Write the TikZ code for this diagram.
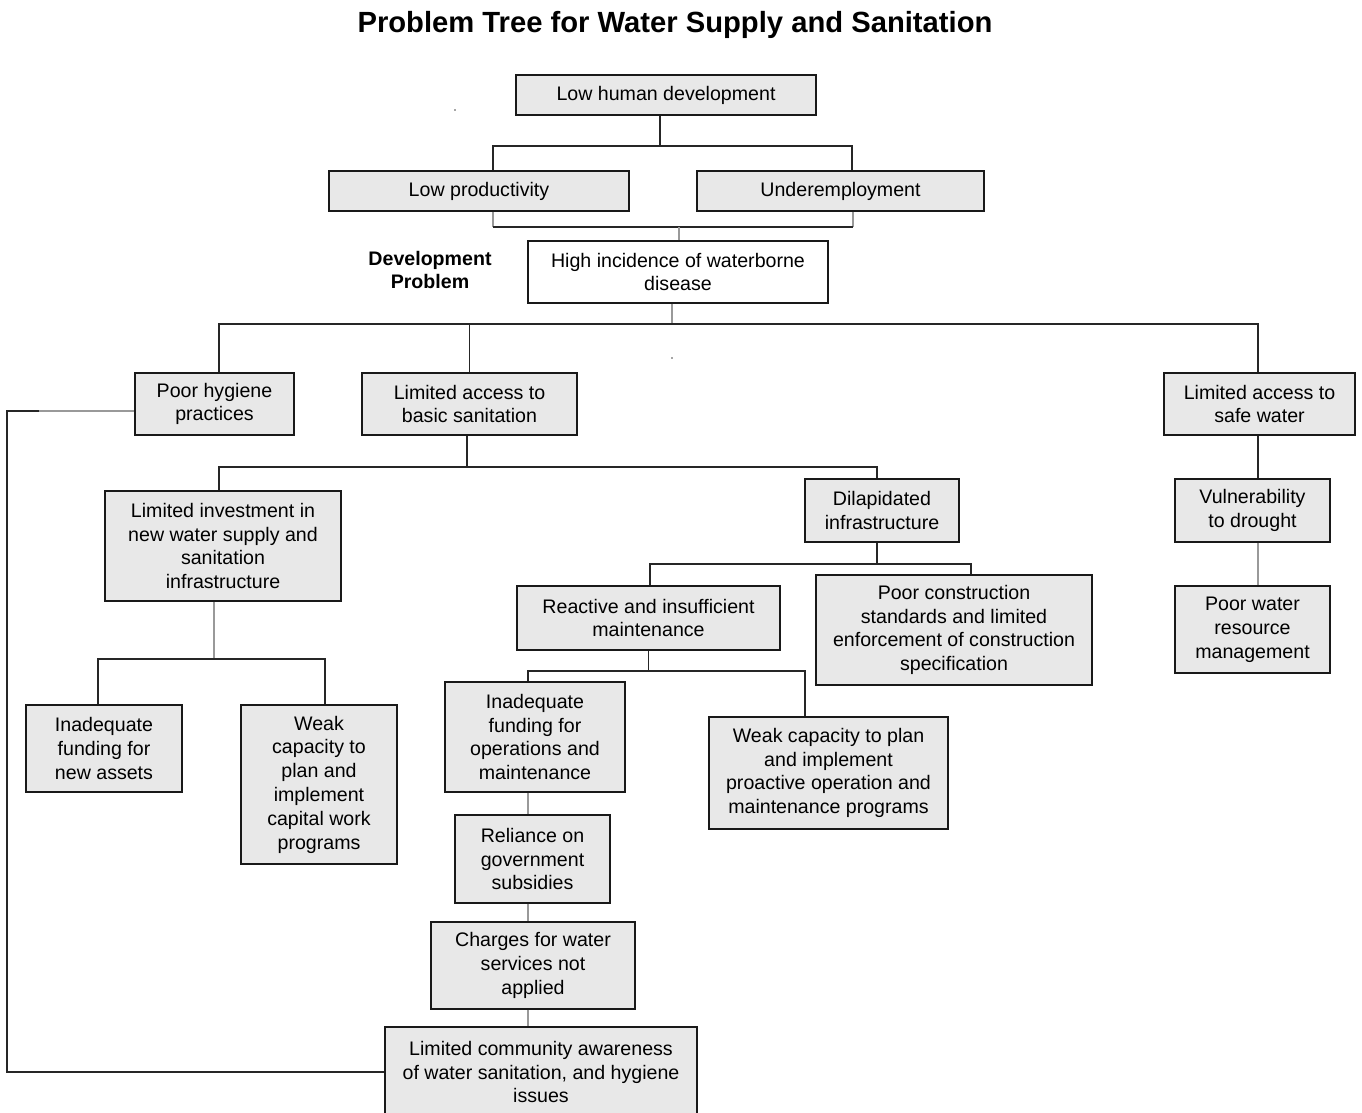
\documentclass[tikz,border=0pt]{standalone}
\usepackage{fontspec}
\setmainfont{Liberation Sans}
\begin{document}
\begin{tikzpicture}[x=1pt,y=-1pt,
  box/.style={draw=black!90, line width=1.7pt, fill=gray!18, align=center, inner sep=0pt, font=\fontsize{19.6}{23.8}\selectfont},
  wbox/.style={box, fill=white},
  conn/.style={line width=1.6pt, draw=black!85},
  gconn/.style={line width=1.6pt, draw=black!40}]
\useasboundingbox[fill=white] (0,0) rectangle (1362,1113);

\node[font=\bfseries\fontsize{29.2}{34}\selectfont] (title) at (675,24.5) {Problem Tree for Water Supply and Sanitation};

\node[box, minimum width=300pt, minimum height=40pt] (lhd) at (666,95) {Low human development};
\node[box, minimum width=300pt, minimum height=40pt] (lp) at (479,191) {Low productivity};
\node[box, minimum width=287pt, minimum height=40pt] (ue) at (840.5,191) {Underemployment};
\node[wbox, minimum width=300pt, minimum height=62pt] (hi) at (678,272) {High incidence of waterborne\\disease};
\node[align=center, font=\bfseries\fontsize{19.6}{23.4}\selectfont] (dp) at (430,270) {Development\\Problem};

\node[box, minimum width=159pt, minimum height=62pt] (ph) at (214.5,404) {Poor hygiene\\practices};
\node[box, minimum width=215pt, minimum height=62pt] (lbs) at (469.5,404) {Limited access to\\basic sanitation};
\node[box, minimum width=191pt, minimum height=62pt] (lsw) at (1259.5,404) {Limited access to\\safe water};

\node[box, minimum width=236pt, minimum height=110pt] (li) at (223,546) {Limited investment in\\new water supply and\\sanitation\\infrastructure};
\node[box, minimum width=154pt, minimum height=63pt] (di) at (882,510.5) {Dilapidated\\infrastructure};
\node[box, minimum width=155pt, minimum height=63pt] (vd) at (1252.5,510.5) {Vulnerability\\to drought};

\node[box, minimum width=263pt, minimum height=64pt] (rm) at (648.5,618) {Reactive and insufficient\\maintenance};
\node[box, minimum width=276pt, minimum height=110pt] (pc) at (954,630) {Poor construction\\standards and limited\\enforcement of construction\\specification};
\node[box, minimum width=155pt, minimum height=87pt] (pw) at (1252.5,629.5) {Poor water\\resource\\management};

\node[box, minimum width=156pt, minimum height=87pt] (ifn) at (104,748.5) {Inadequate\\funding for\\new assets};
\node[box, minimum width=156pt, minimum height=159pt] (wc) at (319,784.5) {Weak\\capacity to\\plan and\\implement\\capital work\\programs};
\node[box, minimum width=180pt, minimum height=110pt] (ifo) at (535,737) {Inadequate\\funding for\\operations and\\maintenance};
\node[box, minimum width=239pt, minimum height=112pt] (wp) at (828.5,773) {Weak capacity to plan\\and implement\\proactive operation and\\maintenance programs};
\node[box, minimum width=155pt, minimum height=88pt] (rg) at (532.5,859) {Reliance on\\government\\subsidies};
\node[box, minimum width=204pt, minimum height=87pt] (cw) at (533,965.5) {Charges for water\\services not\\applied};
\node[box, minimum width=312pt, minimum height=90pt] (lc) at (541,1072) {Limited community awareness\\of water sanitation, and hygiene\\issues};

% stray dots
\fill[black!70] (455,110) circle (0.9);
\fill[black!70] (672,358) circle (0.9);

% level 1
\draw[conn] ([xshift=-6pt]lhd.south) -- ++(0,30) coordinate (j1);
\draw[conn] ([xshift=14pt]lp.north) |- (j1) -| ([xshift=11.5pt]ue.north);
% join below
\draw[gconn] ([xshift=14pt]lp.south) -- ++(0,15) coordinate (j2);
\draw[gconn] ([xshift=12.5pt]ue.south) -- ([xshift=12.5pt]ue.south |- j2);
\draw[conn] (j2) -- ([xshift=12.5pt]ue.south |- j2);
\draw[gconn] ([xshift=1pt]hi.north) -- ([xshift=1pt]hi.north |- j2);
% level hi
\draw[gconn] ([xshift=-6pt]hi.south) -- ++(0,20) coordinate (j3);
\draw[conn] ([xshift=4.5pt]ph.north) |- (j3) -| ([xshift=-1.5pt]lsw.north);
\draw[conn] (lbs.north) -- (lbs.north |- j3);
% basic sanitation
\draw[conn] ([xshift=-2.5pt]lbs.south) -- ++(0,31) coordinate (j4);
\draw[conn] ([xshift=-4pt]li.north) |- (j4) -| ([xshift=-5pt]di.north);
% limited investment
\draw[gconn] ([xshift=-9pt]li.south) -- ++(0,57) coordinate (j5);
\draw[conn] ([xshift=-6pt]ifn.north) |- (j5) -| ([xshift=6pt]wc.north);
% dilapidated
\draw[conn] ([xshift=-5pt]di.south) -- ++(0,21) coordinate (j6);
\draw[conn] ([xshift=1.5pt]rm.north) |- (j6) -| ([xshift=17pt]pc.north);
% reactive
\draw[conn] (rm.south) -- ++(0,20) coordinate (j7);
\draw[conn] ([xshift=-7pt]ifo.north) |- (j7) -| ([xshift=-23.5pt]wp.north);
% chain
\draw[gconn] ([xshift=-7pt]ifo.south) -- ([xshift=-7pt]ifo.south |- rg.north);
\draw[gconn] ([xshift=-4.5pt]rg.south) -- ([xshift=-4.5pt]rg.south |- cw.north);
\draw[gconn] ([xshift=-5pt]cw.south) -- ([xshift=-5pt]cw.south |- lc.north);
% safe water
\draw[conn] ([xshift=-1.5pt]lsw.south) -- ([xshift=-1.5pt]lsw.south |- vd.north);
\draw[gconn] ([xshift=5.5pt]vd.south) -- ([xshift=5.5pt]vd.south |- pw.north);
% loop
\draw[gconn] ([yshift=-7pt]ph.west) -- ++(-95,0) coordinate (j8);
\draw[conn] (j8) -- ++(-32,0) |- (lc.west);
\end{tikzpicture}
\end{document}
